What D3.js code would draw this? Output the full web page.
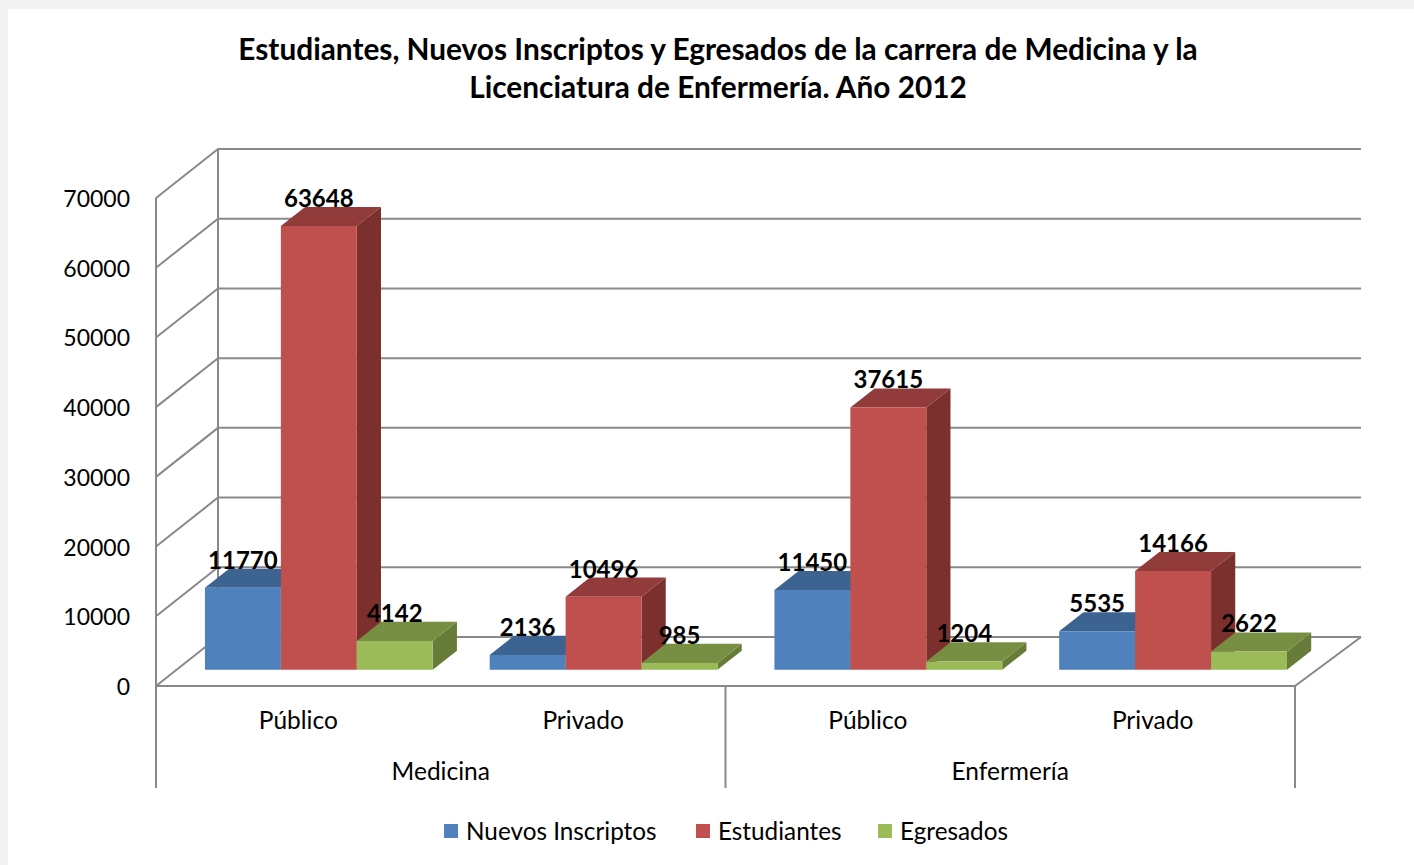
<!DOCTYPE html>
<html>
<head>
<meta charset="utf-8">
<script src="https://cdn.jsdelivr.net/npm/d3@7"></script>
<style>
  body { margin: 0; background: #f2f2f2; }
  svg { display: block; }
  text { font-family: Lato, "Open Sans", sans-serif; fill: #000; }
</style>
</head>
<body>
<script>
// data
var categories = ["Público", "Privado", "Público", "Privado"];
var groups = ["Medicina", "Enfermería"];
var seriesNames = ["Nuevos Inscriptos", "Estudiantes", "Egresados"];
var nuevosInscriptos = [11770, 2136, 11450, 5535];
var estudiantes = [63648, 10496, 37615, 14166];
var egresados = [4142, 985, 1204, 2622];
var yTicks = [0, 10000, 20000, 30000, 40000, 50000, 60000, 70000];

var seriesValues = [nuevosInscriptos, estudiantes, egresados];
var faceColors = [
  {front: "#4f81bd", top: "#3d6390", side: "#355680"},
  {front: "#c0504d", top: "#913c3a", side: "#7b302e"},
  {front: "#9bbb59", top: "#778f42", side: "#677c38"}
];

var W = 1414, H = 865;
var svg = d3.select("body").append("svg")
    .attr("width", W)
    .attr("height", H);

// white panel
svg.append("rect")
    .attr("x", 8).attr("y", 9)
    .attr("width", W - 8).attr("height", H - 9)
    .attr("fill", "#fff");

// oblique 3d setup: floor front edge, depth offset
var left = 156, right = 1295, floorY = 686;
var DX = 62, DY = 49;
var zFront = 0.33, zBack = 0.72;

var y = d3.scaleLinear().domain([0, 70000]).range([floorY, 198]);
var x0 = d3.scaleBand().domain(d3.range(categories.length))
    .range([left, right]).paddingInner(0.2).paddingOuter(0.1);
var x1 = d3.scaleBand().domain(d3.range(seriesNames.length))
    .range([0, x0.bandwidth()]);

function P(x, v, z) { return [x + z * DX, y(v) - z * DY]; }
function pts(arr) { return arr.map(function(p) { return p.join(","); }).join(" "); }
var gridColor = "#898989";

// walls / gridlines
var grid = svg.append("g").attr("stroke", gridColor).attr("stroke-width", 2).attr("fill", "none");
yTicks.forEach(function(t) {
  grid.append("polyline").attr("points", pts([P(left, t, 0), P(left, t, 1), P(right + 4, t, 1)]));
});
// left wall verticals
grid.append("line").attr("x1", left).attr("y1", y(70000)).attr("x2", left).attr("y2", 788);
grid.append("line").attr("x1", left + DX).attr("y1", y(70000) - DY).attr("x2", left + DX).attr("y2", floorY - DY);
// floor front and right edge
grid.append("polyline").attr("points", pts([P(left, 0, 0), P(right, 0, 0), P(right + 4, 0, 1)]));
// category separators below floor
grid.append("line").attr("x1", (left + right) / 2).attr("y1", floorY).attr("x2", (left + right) / 2).attr("y2", 788);
grid.append("line").attr("x1", right).attr("y1", floorY).attr("x2", right).attr("y2", 788);

// bars, painted left to right
var bars = svg.append("g");
var labelData = [];
categories.forEach(function(cat, ci) {
  seriesValues.forEach(function(vals, si) {
    var v = vals[ci];
    var xa = x0(ci) + x1(si), xb = xa + x1.bandwidth();
    var col = faceColors[si];
    var f1 = P(xa, 0, zFront), f2 = P(xb, 0, zFront), f3 = P(xb, v, zFront), f4 = P(xa, v, zFront);
    var b3 = P(xb, v, zBack), b4 = P(xa, v, zBack), b2 = P(xb, 0, zBack);
    bars.append("polygon").attr("points", pts([f2, b2, b3, f3])).attr("fill", col.side);
    bars.append("polygon").attr("points", pts([f4, f3, b3, b4])).attr("fill", col.top);
    bars.append("polygon").attr("points", pts([f1, f2, f3, f4])).attr("fill", col.front);
    labelData.push({x: (f1[0] + f2[0]) / 2, y: b4[1], v: v});
  });
});

svg.append("g").selectAll("text").data(labelData).enter().append("text")
    .attr("x", function(d) { return d.x; })
    .attr("y", function(d) { return d.y; })
    .attr("text-anchor", "middle")
    .attr("font-size", 24)
    .attr("font-weight", "bold")
    .text(function(d) { return d.v; });

// y axis labels
svg.append("g").selectAll("text").data(yTicks).enter().append("text")
    .attr("x", 130)
    .attr("y", function(d) { return y(d) + 9; })
    .attr("text-anchor", "end")
    .attr("font-size", 23)
    .text(function(d) { return d; });

// category labels
svg.append("g").selectAll("text").data(categories).enter().append("text")
    .attr("x", function(d, i) { return x0(i) + x0.bandwidth() / 2; })
    .attr("y", 729)
    .attr("text-anchor", "middle")
    .attr("font-size", 24.5)
    .text(function(d) { return d; });

svg.append("g").selectAll("text").data(groups).enter().append("text")
    .attr("x", function(d, i) { return left + (right - left) / 4 * (2 * i + 1); })
    .attr("y", 780)
    .attr("text-anchor", "middle")
    .attr("font-size", 24.5)
    .text(function(d) { return d; });

// title
var title = svg.append("text").attr("text-anchor", "middle")
    .attr("font-size", 29.8).attr("font-weight", "bold");
title.append("tspan").attr("x", 718).attr("y", 60)
    .text("Estudiantes, Nuevos Inscriptos y Egresados de la carrera de Medicina y la");
title.append("tspan").attr("x", 718).attr("y", 98)
    .text("Licenciatura de Enfermería. Año 2012");

// legend
var legendX = [444, 696, 878];
var legend = svg.append("g").selectAll("g").data(seriesNames).enter().append("g")
    .attr("transform", function(d, i) { return "translate(" + legendX[i] + ",831)"; });
legend.append("rect").attr("x", 0).attr("y", -7).attr("width", 14).attr("height", 14)
    .attr("fill", function(d, i) { return faceColors[i].front; });
legend.append("text").attr("x", 22).attr("y", 9).attr("font-size", 24.3)
    .text(function(d) { return d; });
</script>
</body>
</html>
